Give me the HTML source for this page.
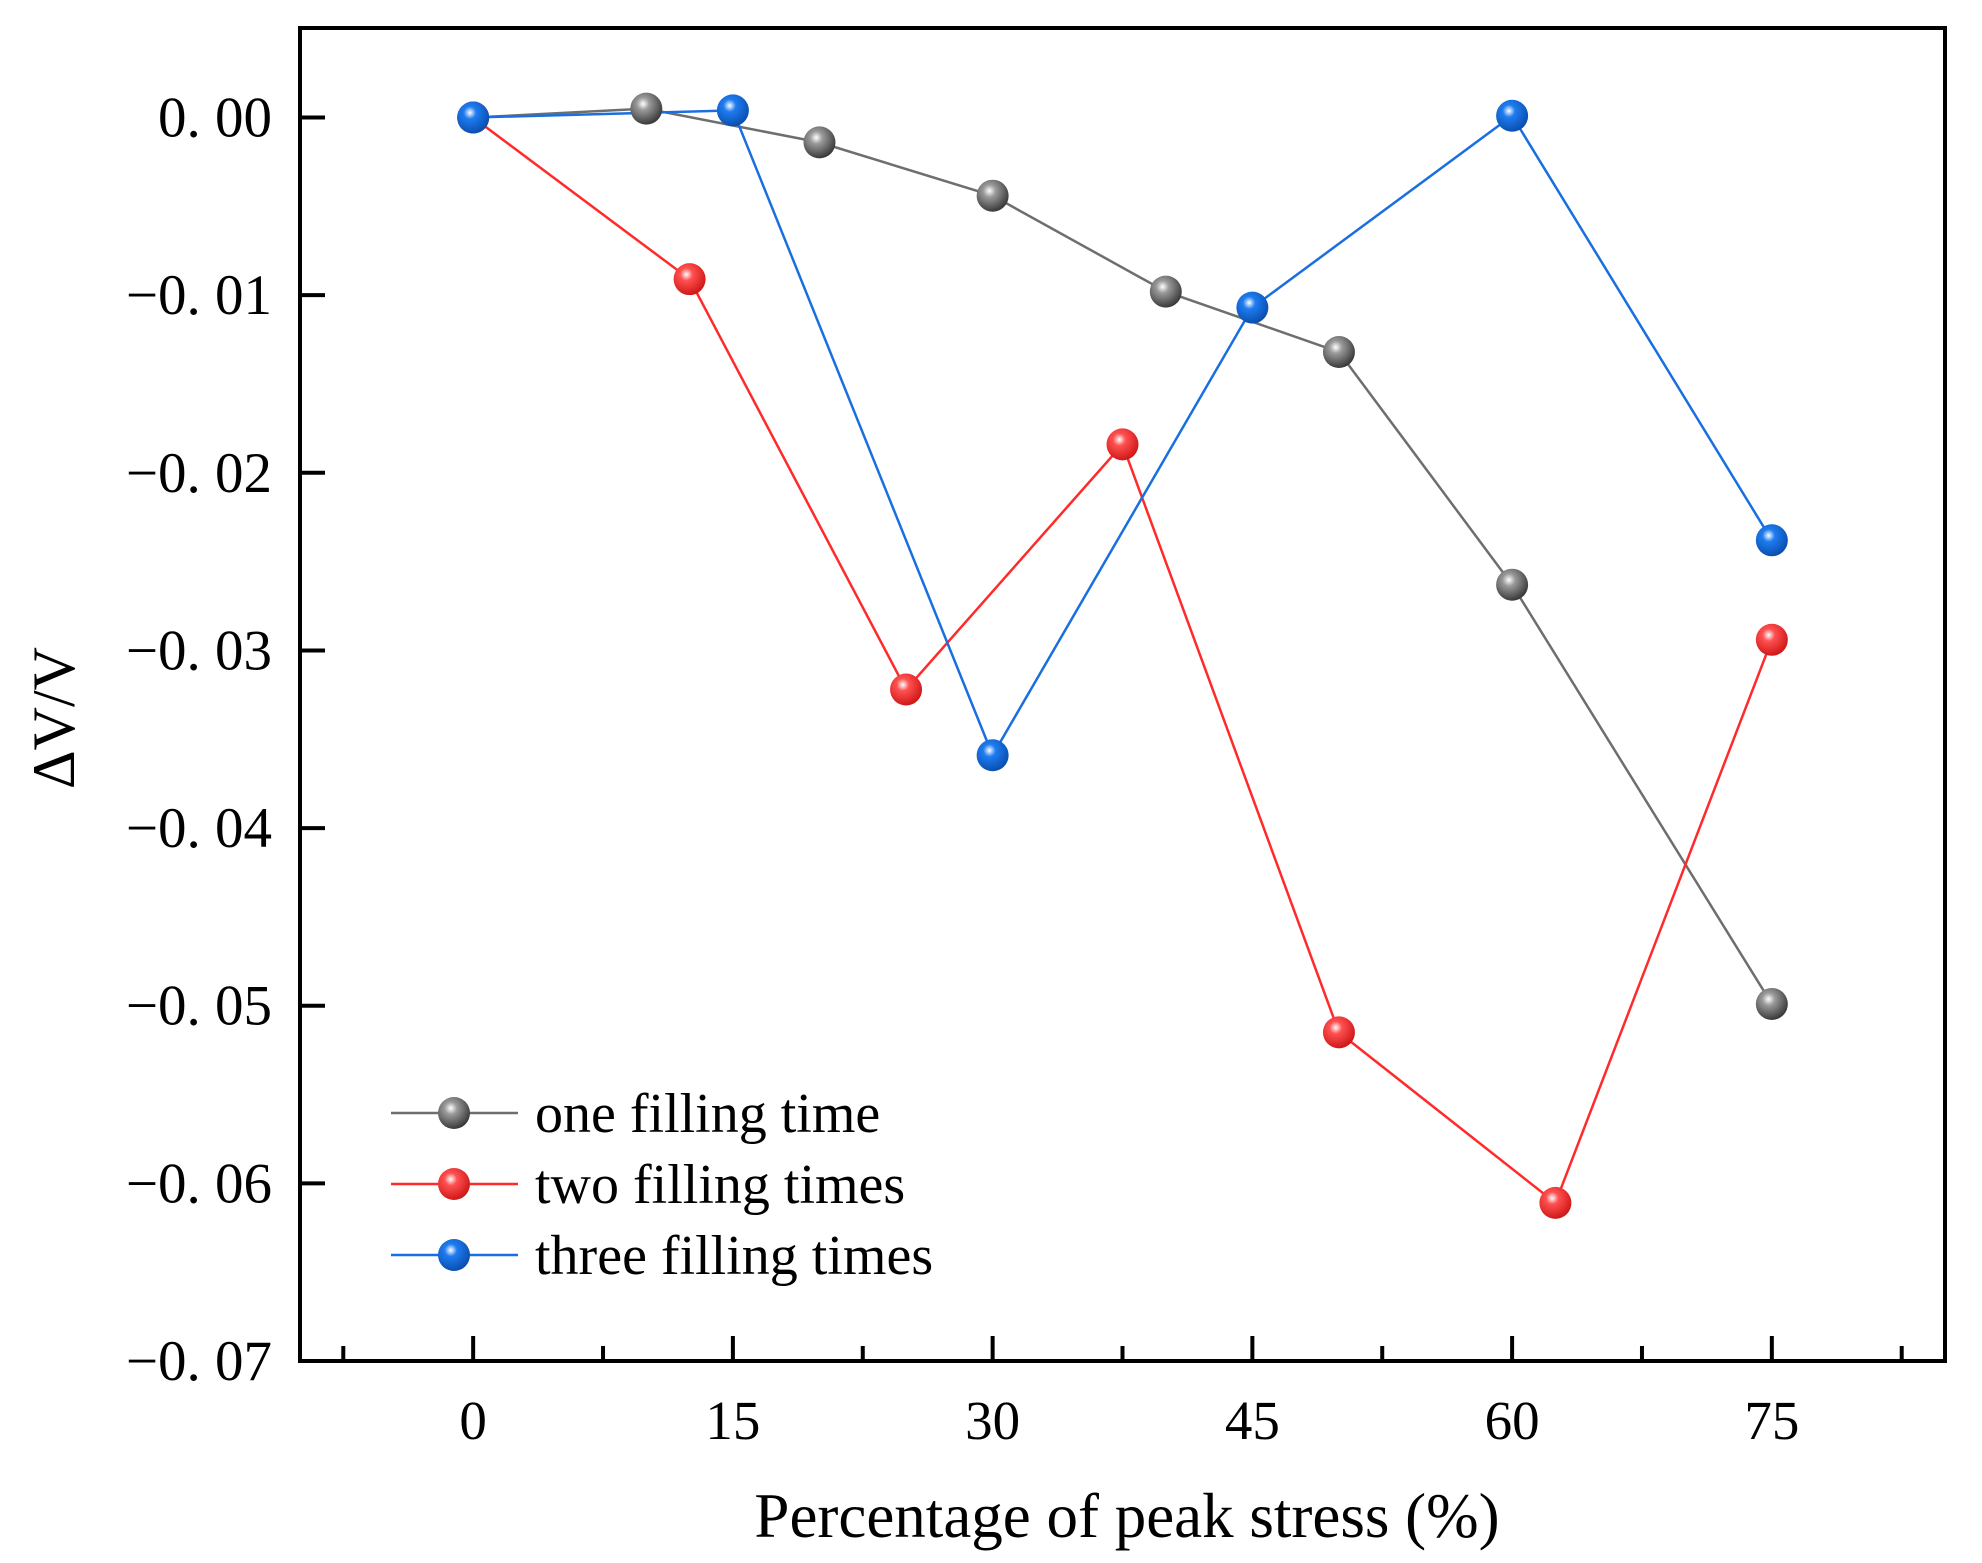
<!DOCTYPE html>
<html><head><meta charset="utf-8"><style>
html,body{margin:0;padding:0;background:#fff;}
svg text{font-family:"Liberation Serif","Noto Serif CJK SC",serif;fill:#000;}
</style></head><body>
<svg id="chart" width="1982" height="1558" viewBox="0 0 1982 1558" xmlns="http://www.w3.org/2000/svg">
<defs>
<radialGradient id="gGray" cx="0.4" cy="0.35" r="0.65"><stop offset="0" stop-color="#fff"/><stop offset="0.3" stop-color="#9a9a9a"/><stop offset="1" stop-color="#3a3a3a"/></radialGradient>
<radialGradient id="gRed" cx="0.4" cy="0.35" r="0.65"><stop offset="0" stop-color="#fff"/><stop offset="0.3" stop-color="#ff5050"/><stop offset="1" stop-color="#d01818"/></radialGradient>
<radialGradient id="gBlue" cx="0.4" cy="0.35" r="0.65"><stop offset="0" stop-color="#fff"/><stop offset="0.3" stop-color="#1e7cf0"/><stop offset="1" stop-color="#0a4fb0"/></radialGradient>
</defs>
<g id="plot"></g>
</svg>
<script>
const xTicks = [0, 15, 30, 45, 60, 75];
const xMinor = [-7.5, 7.5, 22.5, 37.5, 52.5, 67.5, 82.5];
const yTicks = [0, -0.01, -0.02, -0.03, -0.04, -0.05, -0.06, -0.07];
const yTickLabels = ["0. 00", "\u22120. 01", "\u22120. 02", "\u22120. 03", "\u22120. 04", "\u22120. 05", "\u22120. 06", "\u22120. 07"];
const oneX = [0, 10, 20, 30, 40, 50, 60, 75];
const oneY = [0, 0.0005, -0.0014, -0.0044, -0.0098, -0.0132, -0.0263, -0.0499];
const twoX = [0, 12.5, 25, 37.5, 50, 62.5, 75];
const twoY = [0, -0.0091, -0.0322, -0.0184, -0.0515, -0.0611, -0.0294];
const threeX = [0, 15, 30, 45, 60, 75];
const threeY = [0, 0.0004, -0.0359, -0.0107, 0.0001, -0.0238];
const seriesNames = ["one filling time", "two filling times", "three filling times"];

const L=300,R=1945,T=28,B=1361;
const xMin=-10,xMax=85,yMin=-0.07,yMax=0.00504;
const sx=v=>L+(v-xMin)/(xMax-xMin)*(R-L);
const sy=v=>B-(v-yMin)/(yMax-yMin)*(B-T);
const NS='http://www.w3.org/2000/svg';
const g=document.getElementById('plot');
function mk(tag,attrs,parent){const e=document.createElementNS(NS,tag);for(const k in attrs)e.setAttribute(k,attrs[k]);(parent||g).appendChild(e);return e;}

let e=mk('rect',{x:L,y:T,width:R-L,height:B-T,fill:'none',stroke:'#000','stroke-width':4});



xTicks.forEach((v,i)=>{
  let t=mk('line',{x1:sx(v),x2:sx(v),y1:B,y2:B-25,stroke:'#000','stroke-width':4});
  
  
  let l=mk('text',{x:sx(v),y:B+78,'font-size':55,'text-anchor':'middle'});
  l.textContent=String(v);
  
  
});
xMinor.forEach(v=>{
  let t=mk('line',{x1:sx(v),x2:sx(v),y1:B,y2:B-15,stroke:'#000','stroke-width':4});
  
  
});
yTicks.forEach((v,i)=>{
  if(i<yTicks.length-1){
    let t=mk('line',{x1:L,x2:L+25,y1:sy(v),y2:sy(v),stroke:'#000','stroke-width':4});
    
    
  }
  let l=mk('text',{x:272,y:sy(v)+19,'font-size':57,'text-anchor':'end'});
  l.textContent=yTickLabels[i];
  
  
});

let xt=mk('text',{x:1127,y:1537,'font-size':63,'text-anchor':'middle'});
xt.textContent='Percentage of peak stress (%)';


let yt=mk('text',{x:0,y:0,'font-size':60,'text-anchor':'middle',transform:'translate(74,718) rotate(-90)'});
yt.textContent='\u0394V/V';



const series=[[oneX,oneY,'#6e6e6e','url(#gGray)','one'],[twoX,twoY,'#ff2a2a','url(#gRed)','two'],[threeX,threeY,'#1a6fe0','url(#gBlue)','three']];
series.forEach(([xs,ys,col,fill,nm],si)=>{
  let p=mk('polyline',{points:xs.map((x,i)=>sx(x)+','+sy(ys[i])).join(' '),fill:'none',stroke:col,'stroke-width':2.5});
  
  
});
series.forEach(([xs,ys,col,fill,nm],si)=>{
  xs.forEach((x,i)=>{
    let c=mk('circle',{cx:sx(x),cy:sy(ys[i]),r:16,fill:fill});
    
    
  });
  const ly=1113+si*71;
  let ll=mk('line',{x1:391,x2:518,y1:ly,y2:ly,stroke:col,'stroke-width':2.5});
  
  
  let lc=mk('circle',{cx:454,cy:ly,r:16,fill:fill});
  
  
  let lt=mk('text',{x:535,y:ly+19,'font-size':56});
  lt.textContent=seriesNames[si];
  
  
});
</script>
</body></html>
